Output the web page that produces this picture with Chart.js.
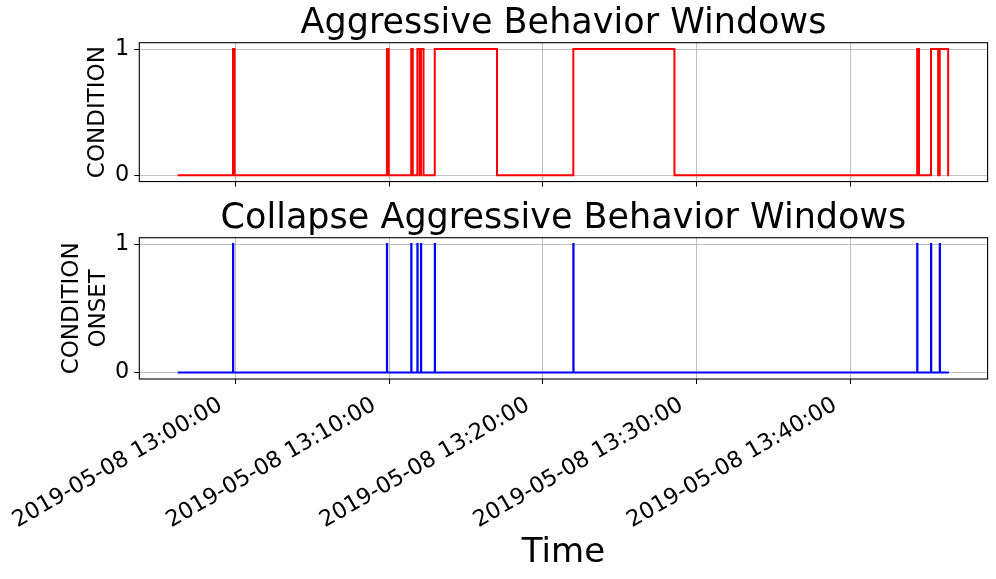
<!DOCTYPE html>
<html>
<head>
<meta charset="utf-8">
<script src="https://cdn.jsdelivr.net/npm/chart.js@4.4.1/dist/chart.umd.min.js"></script>
<style>
  body { margin: 0; background: #fff; }
  #wrap { position: relative; width: 996px; height: 579px; }
  canvas { position: absolute; left: 0; }
</style>
</head>
<body>
<div id="wrap">
  <canvas id="topChart" width="996" height="200" style="top:0"></canvas>
  <canvas id="bottomChart" width="996" height="379" style="top:200px"></canvas>
</div>
<script>
// condition windows (value holds until the next time)
const windowTimes = [
  '12:56:14', '12:59:50', '12:59:56', '13:09:51', '13:09:58', '13:11:26', '13:11:32',
  '13:11:50', '13:11:59', '13:12:04', '13:12:14', '13:12:58', '13:17:01', '13:21:59',
  '13:28:34', '13:44:22', '13:44:29', '13:45:16', '13:45:44', '13:45:50', '13:46:23', '13:46:26'
];
const windowValues = [0, 1, 0, 1, 0, 1, 0, 1, 0, 1, 0, 1, 0, 1, 0, 1, 0, 1, 0, 1, 0, 0];

// collapsed onsets
const onsetTimes = [
  '12:56:14', '12:59:50', '12:59:51', '13:09:51', '13:09:52', '13:11:26', '13:11:27',
  '13:11:50', '13:11:51', '13:12:04', '13:12:05', '13:12:58', '13:12:59', '13:21:59',
  '13:22:00', '13:44:22', '13:44:23', '13:45:16', '13:45:17', '13:45:50', '13:45:51', '13:46:26'
];
const onsetValues = [0, 1, 0, 1, 0, 1, 0, 1, 0, 1, 0, 1, 0, 1, 0, 1, 0, 1, 0, 1, 0, 0];

const tickLabels = [
  '2019-05-08 13:00:00', '2019-05-08 13:10:00', '2019-05-08 13:20:00',
  '2019-05-08 13:30:00', '2019-05-08 13:40:00'
];
const yTicks = [0, 1];
const xStart = '12:53:44';
const xEnd = '13:48:57';

function toSec(str) {
  const p = str.split(':').map(Number);
  return p[0] * 3600 + p[1] * 60 + p[2];
}
const tickSecs = tickLabels.map(l => toSec(l.split(' ')[1]));

Chart.defaults.font.family = 'DejaVu Sans';
Chart.defaults.color = '#000';

const frame = {
  id: 'frame',
  afterDatasetsDraw(chart) {
    const { ctx, chartArea: a } = chart;
    ctx.save();
    ctx.strokeStyle = '#000';
    ctx.lineWidth = 1.1;
    ctx.strokeRect(a.left, a.top, a.right - a.left, a.bottom - a.top);
    ctx.restore();
  }
};

function makeChart(id, times, values, color, cfg) {
  const points = times.map((t, i) => ({ x: toSec(t), y: values[i] }));
  return new Chart(document.getElementById(id), {
    type: 'line',
    data: {
      datasets: [{
        data: points,
        borderColor: color,
        borderWidth: 2,
        pointRadius: 0,
        stepped: 'before',
        fill: false
      }]
    },
    plugins: [frame],
    options: {
      responsive: false,
      animation: false,
      layout: { padding: { left: 0, right: 8.4, top: 0, bottom: 0 } },
      plugins: {
        legend: { display: false },
        tooltip: { enabled: false },
        title: {
          display: true,
          text: cfg.title,
          fullSize: false,
          color: '#000',
          font: { size: 35, weight: 'normal', lineHeight: 1 },
          padding: cfg.titlePad
        }
      },
      scales: {
        x: {
          type: 'linear',
          min: toSec(xStart),
          max: toSec(xEnd),
          afterBuildTicks: s => { s.ticks = tickSecs.map(v => ({ value: v })); },
          afterFit: s => { s.height = cfg.xHeight; },
          border: { display: false },
          grid: { color: '#b0b0b0', lineWidth: 0.8, tickColor: '#000', tickLength: 5, tickWidth: 1 },
          ticks: {
            display: cfg.showX,
            autoSkip: false,
            minRotation: 30,
            maxRotation: 30,
            padding: 8,
            labelOffset: -15,
            font: { size: 22.4 },
            callback: (v, i) => tickLabels[i]
          },
          title: {
            display: cfg.showX,
            text: 'Time',
            font: { size: 34, lineHeight: 1.2 },
            padding: { top: 0, bottom: 5 }
          }
        },
        y: {
          min: -0.05,
          max: 1.05,
          afterBuildTicks: s => { s.ticks = yTicks.map(v => ({ value: v })); },
          afterFit: s => { s.width = 139.3; },
          border: { display: false },
          grid: { color: '#b0b0b0', lineWidth: 0.8, tickColor: '#000', tickLength: 5, tickWidth: 1 },
          ticks: { padding: 5, font: { size: 22.4 } },
          title: {
            display: true,
            text: cfg.yTitle,
            font: { size: 23, lineHeight: 1.15 },
            padding: { top: cfg.yTitlePad, bottom: 0 }
          }
        }
      }
    }
  });
}

makeChart('topChart', windowTimes, windowValues, '#ff0000', {
  title: 'Aggressive Behavior Windows',
  titlePad: { top: 6.5, bottom: 1.2 },
  xHeight: 16.7,
  showX: false,
  yTitle: 'CONDITION',
  yTitlePad: 85
});

makeChart('bottomChart', onsetTimes, onsetValues, '#0000ff', {
  title: 'Collapse Aggressive Behavior Windows',
  titlePad: { top: 1.5, bottom: 1.2 },
  xHeight: 200,
  showX: true,
  yTitle: ['CONDITION', 'ONSET'],
  yTitlePad: 59
});
</script>
</body>
</html>
